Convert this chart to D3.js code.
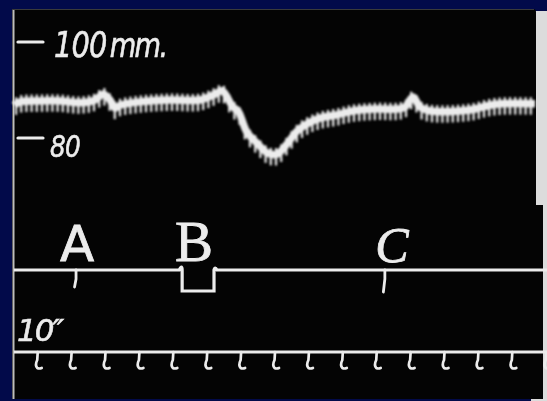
<!DOCTYPE html>
<html>
<head>
<meta charset="utf-8">
<script src="https://cdn.jsdelivr.net/npm/d3@7"></script>
<style>
  html, body { margin: 0; padding: 0; background: #020a4a; }
  svg { display: block; }
</style>
</head>
<body>
<script>
'use strict';

// mean blood pressure (seconds, mm Hg)
const traceTime = [0, 1.8, 7.7, 13.6, 19.5, 23.9, 26.3, 28.3, 29.8, 31.3, 37.2, 46.0, 54.9, 59.3, 61.4,
    64.6, 66.1, 68.7, 71.7, 74.9, 77.6, 80.5, 83.5, 86.4, 90.3, 95.3, 100.0, 107.1, 113.0, 115.3,
    117.7, 119.8, 122.7, 134.5, 140.4, 144.2, 153.7];
const tracePressure = [86.2, 86.9, 87.1, 87.1, 86.7, 87.3, 88.5, 87.3, 85.6, 86.2, 86.9, 87.3, 87.3, 88.5, 89.2,
    85.8, 85.0, 80.6, 78.3, 76.2, 76.0, 78.1, 80.8, 82.3, 83.5, 84.2, 85.0, 85.4, 85.4, 85.8,
    87.9, 85.8, 85.0, 85.2, 86.2, 86.5, 86.5];

// pressure scale marks
const scaleValues = [100, 80];
const scaleNumbers = ["100", "80"];
const scaleUnits = ["mm.", ""];

// signal marks (seconds)
const eventLabels = ["A", "B", "C"];
const eventStart = [18.3, 49.6, 109.4];
const eventEnd = [18.3, 59.0, 109.4];

// 10 second timer marks
const timerMarks = [7, 17, 27, 37, 47, 57, 67, 77, 87, 97, 107, 117, 127, 137, 147, 157];
const timerLabel = "10\u2033";

(function () {
    const W = 547, H = 401;
    const ink = "#ececec";

    const svg = d3.select("body").append("svg")
        .attr("width", W)
        .attr("height", H);

    const defs = svg.append("defs");
    defs.append("filter").attr("id", "soft")
        .append("feGaussianBlur").attr("stdDeviation", 0.7);
    defs.append("filter").attr("id", "softer")
        .append("feGaussianBlur").attr("stdDeviation", 1.0);

    // photo paper and black plate
    svg.append("rect").attr("x", 531).attr("y", 11).attr("width", 16).attr("height", H - 11)
        .attr("fill", "#dcdcdc");
    svg.append("rect").attr("x", 12).attr("y", 9).attr("width", 524).attr("height", 390)
        .attr("rx", 3).attr("fill", "#040404");
    svg.append("rect").attr("x", 12).attr("y", 205).attr("width", 531).attr("height", 194)
        .attr("fill", "#040404");
    svg.append("line").attr("x1", 13.5).attr("x2", 13.5).attr("y1", 9).attr("y2", 399)
        .attr("stroke", "#bdbdbd").attr("stroke-width", 2);
    svg.append("line").attr("x1", 12).attr("x2", 534).attr("y1", 9.5).attr("y2", 9.5)
        .attr("stroke", "#3a3a3a").attr("stroke-width", 1);

    // scales
    const x = d3.scaleLinear().domain([0, 160]).range([14, 14 + 3.39 * 160]);
    const y = d3.scaleLinear().domain([80, 100]).range([138, 42]);

    const g = svg.append("g").attr("filter", "url(#soft)");

    // pressure marks
    scaleValues.forEach(function (v, i) {
        g.append("line")
            .attr("x1", 18).attr("x2", 43)
            .attr("y1", y(v)).attr("y2", y(v))
            .attr("stroke", ink).attr("stroke-width", 3.2).attr("stroke-linecap", "round");
        const tx = i === 0 ? 54 : 50;
        const t = g.append("text")
            .attr("transform", "translate(" + tx + "," + (y(v) + (i === 0 ? 15 : 19)) + ") scale(0.8,1)")
            .attr("fill", ink)
            .attr("stroke", ink)
            .attr("stroke-width", 0.6)
            .attr("font-family", "DejaVu Sans")
            .attr("font-style", "italic")
            .attr("font-size", i === 0 ? 36 : 31)
            .attr("letter-spacing", -1)
            .text(scaleNumbers[i]);
        if (scaleUnits[i]) {
            t.append("tspan")
                .attr("dx", 4)
                .attr("font-size", 34)
                .attr("letter-spacing", -2)
                .text(scaleUnits[i]);
        }
    });

    // blood pressure trace
    const pts = traceTime.map((t, i) => [x(t), y(tracePressure[i]) - 3]);
    const line = d3.line().curve(d3.curveCatmullRom.alpha(0.5));
    const trace = svg.append("g").attr("filter", "url(#softer)");

    const core = trace.append("path")
        .attr("d", line(pts))
        .attr("fill", "none")
        .attr("stroke", ink)
        .attr("stroke-width", 7.5);

    // pulse beats hang off the trace as vertical teeth
    const node = core.node();
    const len = node.getTotalLength();
    const samples = d3.range(0, len, 0.5).map(l => node.getPointAtLength(l));
    const yAtX = px => {
        const i = d3.bisector(p => p.x).left(samples, px);
        return samples[Math.min(i, samples.length - 1)].y;
    };
    const beatX = d3.range(x(0) + 2, pts[pts.length - 1][0], 5.2);
    trace.selectAll(".beat")
        .data(beatX)
        .enter()
        .append("line")
        .attr("class", "beat")
        .attr("x1", d => d).attr("x2", d => d)
        .attr("y1", d => yAtX(d) - 6.5)
        .attr("y2", d => yAtX(d) + 11)
        .attr("stroke", ink)
        .attr("stroke-width", 2.3);

    // signal line with A, B, C
    const sy = 270;
    let sig = "M" + x(0) + "," + sy;
    eventLabels.forEach(function (lab, i) {
        const a = x(eventStart[i]), b = x(eventEnd[i]);
        if (eventEnd[i] > eventStart[i]) {
            sig += "L" + (a - 3) + "," + sy + "Q" + a + "," + (sy - 6) + " " + a + "," + sy
                + "L" + a + "," + (sy + 21) + "L" + b + "," + (sy + 21)
                + "L" + b + "," + sy + "Q" + (b + 1) + "," + (sy - 4) + " " + (b + 3) + "," + sy;
        }
    });
    sig += "L" + W + "," + sy;
    g.append("path").attr("d", sig)
        .attr("fill", "none").attr("stroke", ink).attr("stroke-width", 3.2);

    eventLabels.forEach(function (lab, i) {
        if (eventEnd[i] === eventStart[i]) {
            g.append("path")
                .attr("d", "M" + x(eventStart[i]) + "," + sy + "l0,9 l-1.5," + (i === 0 ? 8 : 13))
                .attr("fill", "none").attr("stroke", ink).attr("stroke-width", 2.8)
                .attr("stroke-linecap", "round");
        }
        const cx = (x(eventStart[i]) + x(eventEnd[i])) / 2;
        g.append("text")
            .attr("x", cx + (i === 0 ? 1 : i === 1 ? -4 : 7))
            .attr("y", i === 2 ? 262 : 261)
            .attr("text-anchor", "middle")
            .attr("fill", ink)
            .attr("stroke", ink)
            .attr("stroke-width", 0.8)
            .attr("font-family", i === 0 ? "DejaVu Sans" : "Liberation Serif")
            .attr("font-style", i === 2 ? "italic" : "normal")
            .attr("font-size", i === 0 ? 50 : i === 1 ? 57 : 50)
            .text(lab);
    });

    // timer line
    const ty = 352;
    g.append("line")
        .attr("x1", x(0)).attr("x2", W)
        .attr("y1", ty).attr("y2", ty)
        .attr("stroke", ink).attr("stroke-width", 3.2);
    g.selectAll(".tick")
        .data(timerMarks)
        .enter()
        .append("path")
        .attr("class", "tick")
        .attr("d", d => {
            const px = x(d);
            return "M" + px + "," + ty + " L" + (px - 0.5) + "," + (ty + 8)
                + " Q" + (px - 3) + "," + (ty + 13) + " " + (px - 0.5) + "," + (ty + 16)
                + " Q" + (px + 1.5) + "," + (ty + 17) + " " + (px + 4) + "," + (ty + 16);
        })
        .attr("fill", "none")
        .attr("stroke", ink)
        .attr("stroke-width", 2.7)
        .attr("stroke-linecap", "round");

    g.append("text")
        .attr("x", 17)
        .attr("y", 341)
        .attr("fill", ink)
        .attr("stroke", ink)
        .attr("stroke-width", 0.6)
        .attr("font-family", "DejaVu Sans")
        .attr("font-style", "italic")
        .attr("font-size", 31)
        .attr("letter-spacing", -2)
        .text(timerLabel);
})();
</script>
</body>
</html>
